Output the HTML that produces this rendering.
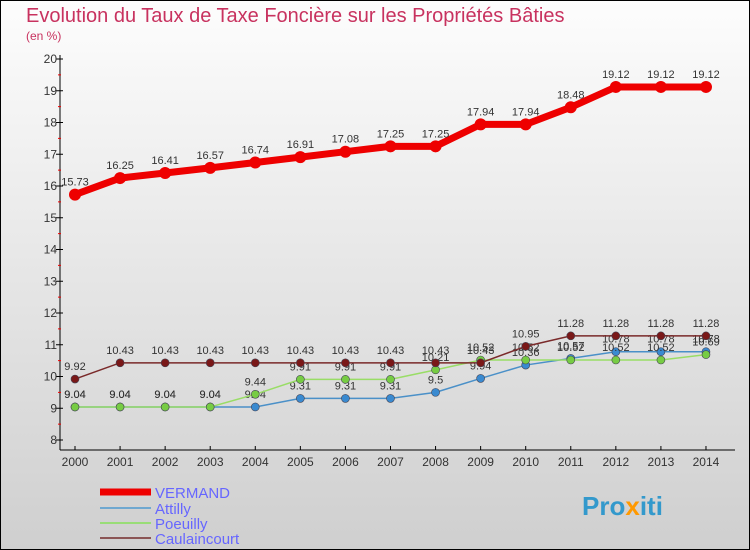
<!DOCTYPE html>
<html><head><meta charset="utf-8"><style>
body{margin:0;width:750px;height:550px;overflow:hidden;font-family:"Liberation Sans",sans-serif}
svg{display:block}
</style></head><body>
<svg id="chart" width="750" height="550" xmlns="http://www.w3.org/2000/svg">
<defs><linearGradient id="bg" x1="0" y1="0" x2="0" y2="1"><stop offset="0" stop-color="#fdfdfd"/><stop offset="1" stop-color="#cfcfcf"/></linearGradient></defs>
<rect x="0.5" y="0.5" width="749" height="549" fill="url(#bg)" stroke="#000"/>
<text x="26" y="22" font-size="20" fill="#c8325f">Evolution du Taux de Taxe Foncière sur les Propriétés Bâties</text>
<text x="26" y="40" font-size="12" fill="#c8325f">(en %)</text>
<g id="axes"></g><g id="series"></g>
<g>
<line x1="100" y1="492" x2="151" y2="492" stroke="#e00" stroke-width="7"/>
<text x="155" y="498" font-size="15" fill="#6666ff">VERMAND</text>
<line x1="100" y1="508" x2="151" y2="508" stroke="#6fa8d0" stroke-width="2"/>
<text x="155" y="514" font-size="15" fill="#6666ff">Attilly</text>
<line x1="100" y1="523" x2="151" y2="523" stroke="#99dd77" stroke-width="2"/>
<text x="155" y="529" font-size="15" fill="#6666ff">Poeuilly</text>
<line x1="100" y1="538" x2="151" y2="538" stroke="#8b5555" stroke-width="2"/>
<text x="155" y="544" font-size="15" fill="#6666ff">Caulaincourt</text>
</g>
<text x="582" y="515" font-size="26" font-weight="bold" fill="#3399cc">Pro<tspan fill="#ff9900">x</tspan>iti</text>
</svg>
<script>
const years=[2000,2001,2002,2003,2004,2005,2006,2007,2008,2009,2010,2011,2012,2013,2014];
const vermand=[15.73,16.25,16.41,16.57,16.74,16.91,17.08,17.25,17.25,17.94,17.94,18.48,19.12,19.12,19.12];
const attilly=[9.04,9.04,9.04,9.04,9.04,9.31,9.31,9.31,9.5,9.94,10.36,10.57,10.78,10.78,10.78];
const poeuilly=[9.04,9.04,9.04,9.04,9.44,9.91,9.91,9.91,10.21,10.52,10.52,10.52,10.52,10.52,10.69];
const caulaincourt=[9.92,10.43,10.43,10.43,10.43,10.43,10.43,10.43,10.43,10.43,10.95,11.28,11.28,11.28,11.28];
const yTicks=[8,9,10,11,12,13,14,15,16,17,18,19,20];
const NS="http://www.w3.org/2000/svg";
const X=i=>75+i*45.07, Y=v=>440-(v-8)*31.75;
function mk(t,a,p){const e=document.createElementNS(NS,t);for(const k in a)e.setAttribute(k,a[k]);p.appendChild(e);return e;}
const ax=document.getElementById('axes'), sg=document.getElementById('series');
let l=mk('line',{x1:60,y1:55,x2:60,y2:450,stroke:'#000'},ax);


l=mk('line',{x1:60,y1:450,x2:735,y2:450,stroke:'#000'},ax);


yTicks.forEach(v=>{
 let t=mk('line',{x1:56,y1:Y(v),x2:63,y2:Y(v),stroke:'#000'},ax);
 
 
 let tx=mk('text',{x:57,y:Y(v)+4,'font-size':12,fill:'#333','text-anchor':'end'},ax);tx.textContent=v;
 
 
 if(v<20){let m=mk('line',{x1:58,y1:Y(v+0.5),x2:61,y2:Y(v+0.5),stroke:'#e00'},ax);
 
 }
});
years.forEach((y,i)=>{
 let t=mk('line',{x1:X(i),y1:446,x2:X(i),y2:450,stroke:'#000'},ax);
 
 
 let tx=mk('text',{x:X(i),y:466,'font-size':12,fill:'#333','text-anchor':'middle'},ax);tx.textContent=y;
 
 
});
function draw(vals,name,color,w,r,dot,above){
 const g=mk('g',{},sg);
 
 
 const p=mk('polyline',{points:vals.map((v,i)=>X(i)+','+Y(v)).join(' '),fill:'none',stroke:color,'stroke-width':w},g);
 
 
 vals.forEach((v,i)=>{
  const c=mk('circle',{cx:X(i),cy:Y(v),r:r,fill:dot,stroke:r>4?'none':'#445','stroke-width':0.6},g);
  
  
  const t=mk('text',{x:X(i),y:Y(v)+(above?-9:-9),'font-size':11,fill:'#333','text-anchor':'middle'},g);t.textContent=v;
  
  
 });
}
draw(attilly,'attilly','#4a90c8',1.5,4,'#3a8ad0',false);
draw(poeuilly,'poeuilly','#99dd66',1.5,4,'#77cc44',false);
draw(caulaincourt,'caulaincourt','#7a2a2a',1.5,4,'#7a1818',false);
draw(vermand,'vermand','#ee0000',7,6,'#ee0000',true);
</script>
</body></html>
